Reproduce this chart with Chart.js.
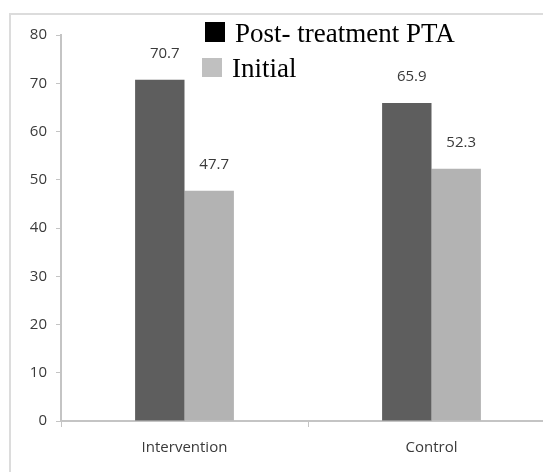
<!DOCTYPE html>
<html>
<head>
<meta charset="utf-8">
<script src="https://cdn.jsdelivr.net/npm/chart.js@4"></script>
<style>
    html, body { margin: 0; padding: 0; background: #fff; overflow: hidden; }
    #wrap { position: relative; width: 543px; height: 472px; overflow: hidden; }
    #frame { position: absolute; left: 9px; top: 13px; width: 600px; height: 520px;
             border: 2px solid #dcdcdc; box-sizing: border-box; }
    canvas { position: absolute; left: 0; top: 0; }
</style>
</head>
<body>
<div id="wrap">
    <div id="frame"></div>
    <canvas id="barchart" width="560" height="472"></canvas>
</div>
<script>
const categories = ['Intervention', 'Control'];
const seriesLabels = ['Post- treatment PTA', 'Initial'];
const postValues = [70.7, 65.9];
const initialValues = [47.7, 52.3];
const barColors = ['#5e5e5e', '#b3b3b3'];
const legendColors = ['#000000', '#c0c0c0'];

// value labels above bars + the pasted-on legend
const labelsPlugin = {
    id: 'labelsPlugin',
    afterDatasetsDraw(chart) {
        const ctx = chart.ctx;
        ctx.save();
        ctx.font = '15px "Open Sans"';
        ctx.fillStyle = '#3a3a3a';
        ctx.textAlign = 'center';
        ctx.textBaseline = 'middle';
        chart.data.datasets.forEach(function (ds, i) {
            const meta = chart.getDatasetMeta(i);
            meta.data.forEach(function (bar, j) {
                ctx.fillText(ds.data[j].toFixed(1), bar.x + 5, bar.y - 26);
            });
        });

        ctx.font = '27px "Liberation Serif"';
        ctx.textAlign = 'left';
        ctx.textBaseline = 'alphabetic';
        const legendPos = [
            { x: 205, y: 22, w: 20, h: 20, tx: 235, ty: 42 },
            { x: 202, y: 58, w: 20, h: 19, tx: 232, ty: 77 }
        ];
        seriesLabels.forEach(function (lbl, i) {
            const p = legendPos[i];
            ctx.fillStyle = legendColors[i];
            ctx.fillRect(p.x, p.y, p.w, p.h);
            ctx.fillStyle = '#000';
            ctx.fillText(lbl, p.tx, p.ty);
        });
        ctx.restore();
    }
};

new Chart('barchart', {
    type: 'bar',
    data: {
        labels: categories,
        datasets: [{
            label: seriesLabels[0],
            data: postValues,
            backgroundColor: barColors[0],
            borderWidth: 0
        }, {
            label: seriesLabels[1],
            data: initialValues,
            backgroundColor: barColors[1],
            borderWidth: 0
        }]
    },
    options: {
        responsive: false,
        animation: false,
        categoryPercentage: 0.4,
        barPercentage: 1.0,
        layout: { padding: { left: 0, right: 5, top: 35, bottom: 0 } },
        plugins: {
            legend: { display: false },
            tooltip: { enabled: false }
        },
        scales: {
            x: {
                afterFit: function (s) { s.height = 51; },
                grid: { drawOnChartArea: false, tickLength: 6, color: '#c4c4c4' },
                border: { color: '#c4c4c4', width: 2 },
                ticks: { color: '#3a3a3a', font: { family: 'Open Sans', size: 15 }, padding: 12 }
            },
            y: {
                min: 0,
                max: 80,
                afterFit: function (s) { s.width = 61; },
                grid: { drawOnChartArea: false, tickLength: 5, color: '#c4c4c4' },
                border: { color: '#c4c4c4', width: 2 },
                ticks: { stepSize: 10, color: '#3a3a3a', font: { family: 'Open Sans', size: 15 }, padding: 9 }
            }
        }
    },
    plugins: [labelsPlugin]
});
</script>
</body>
</html>
